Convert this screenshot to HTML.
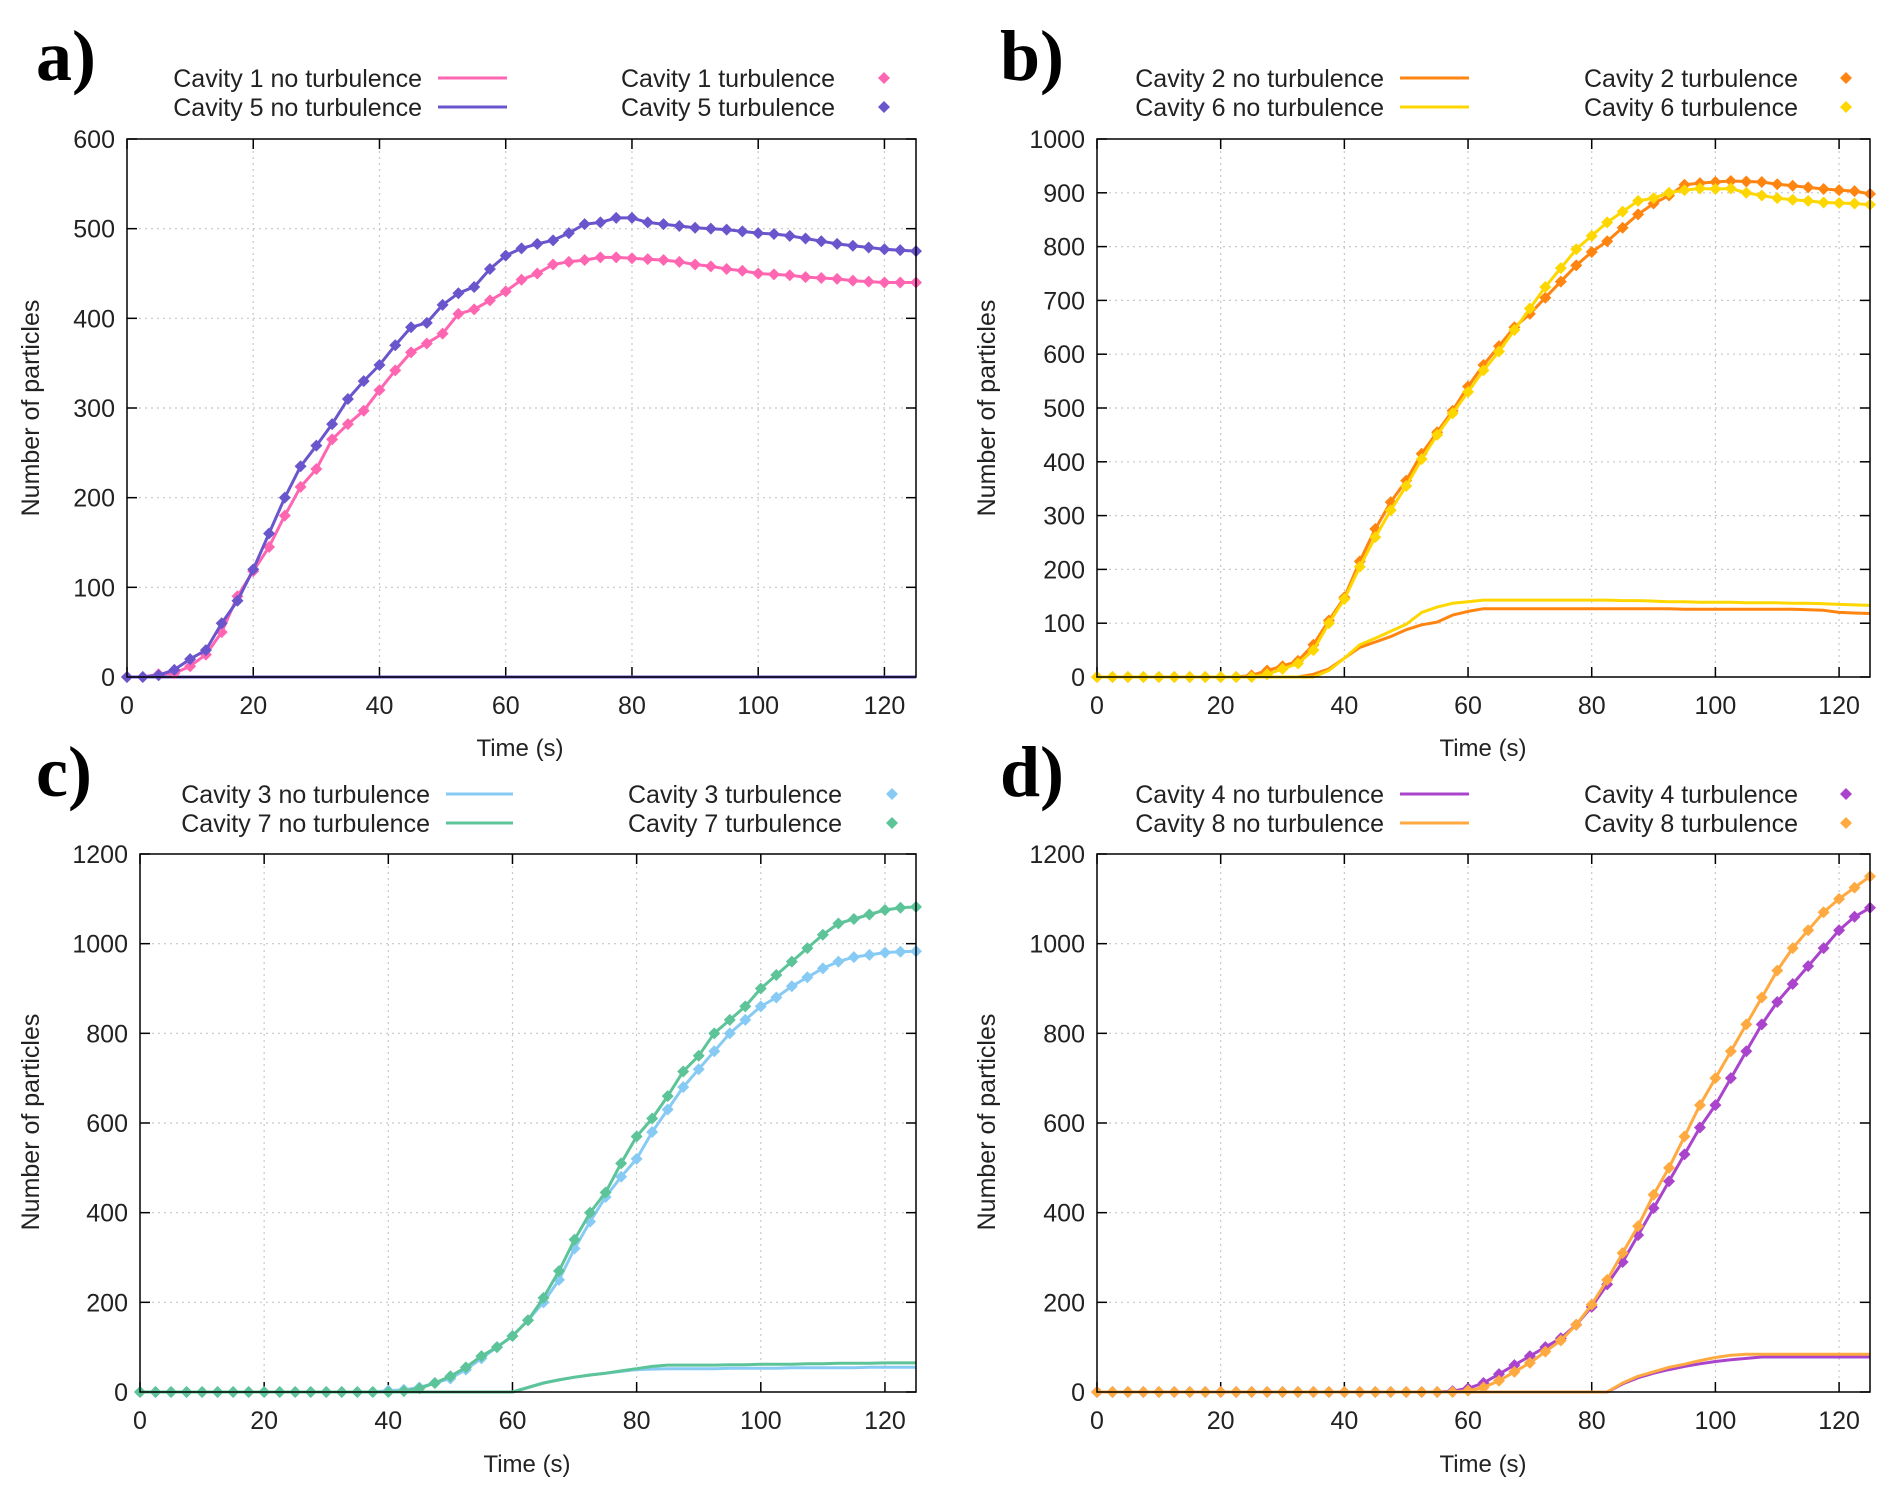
<!DOCTYPE html>
<html><head><meta charset="utf-8"><style>
html,body{margin:0;padding:0;background:#fff;}
svg{display:block;font-family:"Liberation Sans",sans-serif;}
</style></head><body>
<svg id="fig" width="1892" height="1499" viewBox="0 0 1892 1499"></svg>
<script>
const T=[0,2.5,5,7.5,10,12.5,15,17.5,20,22.5,25,27.5,30,32.5,35,37.5,40,42.5,45,47.5,50,52.5,55,57.5,60,62.5,65,67.5,70,72.5,75,77.5,80,82.5,85,87.5,90,92.5,95,97.5,100,102.5,105,107.5,110,112.5,115,117.5,120,122.5,125];
const xTicks=[0,20,40,60,80,100,120];
const yTicksA=[0,100,200,300,400,500,600];
const yTicksB=[0,100,200,300,400,500,600,700,800,900,1000];
const yTicksCD=[0,200,400,600,800,1000,1200];
const zeros=[0,0,0,0,0,0,0,0,0,0,0,0,0,0,0,0,0,0,0,0,0,0,0,0,0,0,0,0,0,0,0,0,0,0,0,0,0,0,0,0,0,0,0,0,0,0,0,0,0,0,0];
const a1t=[0,0,3,4,12,25,50,90,118,145,180,212,232,265,282,297,320,342,362,372,383,405,410,420,430,443,450,460,463,465,468,468,467,466,465,463,460,458,455,453,450,449,448,446,445,444,442,441,440,440,440];
const a5t=[0,0,2,8,20,30,60,85,120,160,200,235,258,282,310,330,348,370,390,395,415,428,435,455,470,478,483,487,495,505,507,512,512,507,505,503,501,500,499,497,495,494,492,489,486,483,481,479,477,476,475];
const a1n=zeros, a5n=zeros;
const b2t=[0,0,0,0,0,0,0,0,0,0,3,12,20,30,60,105,148,215,275,325,365,415,455,495,540,580,615,650,675,705,735,765,790,810,835,860,880,895,915,918,920,922,921,920,916,913,910,907,905,903,898];
const b6t=[0,0,0,0,0,0,0,0,0,0,0,5,15,25,50,100,145,205,260,310,355,405,450,490,530,570,605,645,685,725,760,795,820,845,865,885,890,900,905,908,907,908,900,895,890,887,885,882,881,880,878];
const b2n=[0,0,0,0,0,0,0,0,0,0,0,0,0,0,5,15,35,55,65,75,88,97,102,115,122,127,127,127,127,127,127,127,127,127,127,127,127,127,126,126,126,126,126,126,126,126,125,124,120,119,118];
const b6n=[0,0,0,0,0,0,0,0,0,0,0,0,0,0,0,12,35,60,72,85,98,120,130,137,140,143,143,143,143,143,143,143,143,143,142,142,141,140,140,139,139,139,138,138,138,137,137,136,135,134,133];
const c3t=[0,0,0,0,0,0,0,0,0,0,0,0,0,0,0,0,3,5,10,20,30,50,75,100,125,160,200,250,320,380,435,480,520,580,630,680,720,760,800,830,860,880,905,925,945,960,970,975,980,982,983];
const c7t=[0,0,0,0,0,0,0,0,0,0,0,0,0,0,0,0,0,2,8,20,35,55,80,100,125,160,210,270,340,400,445,510,570,610,660,715,750,800,830,860,900,930,960,990,1020,1045,1055,1065,1075,1080,1082];
const c3n=[0,0,0,0,0,0,0,0,0,0,0,0,0,0,0,0,0,0,0,0,0,0,0,0,0,10,20,27,33,38,42,46,50,51,52,52,52,52,53,53,53,53,54,54,54,54,54,55,55,55,55];
const c7n=[0,0,0,0,0,0,0,0,0,0,0,0,0,0,0,0,0,0,0,0,0,0,0,0,0,10,20,27,33,38,42,47,52,57,60,60,60,60,61,61,62,62,62,63,63,64,64,64,65,65,65];
const d4t=[0,0,0,0,0,0,0,0,0,0,0,0,0,0,0,0,0,0,0,0,0,0,0,2,8,20,40,60,80,100,120,150,190,240,290,350,410,470,530,590,640,700,760,820,870,910,950,990,1030,1060,1080];
const d8t=[0,0,0,0,0,0,0,0,0,0,0,0,0,0,0,0,0,0,0,0,0,0,0,0,3,10,25,45,65,90,115,150,195,250,310,370,440,500,570,640,700,760,820,880,940,990,1030,1070,1100,1125,1150];
const d4n=[0,0,0,0,0,0,0,0,0,0,0,0,0,0,0,0,0,0,0,0,0,0,0,0,0,0,0,0,0,0,0,0,0,0,18,32,42,50,57,63,68,72,75,78,78,78,78,78,78,78,78];
const d8n=[0,0,0,0,0,0,0,0,0,0,0,0,0,0,0,0,0,0,0,0,0,0,0,0,0,0,0,0,0,0,0,0,0,0,20,35,45,55,62,70,77,82,84,84,84,84,84,84,84,84,84];

const NS='http://www.w3.org/2000/svg';
const svg=document.getElementById('fig');
function mk(tag,attrs,parent){const e=document.createElementNS(NS,tag);for(const k in attrs)e.setAttribute(k,attrs[k]);(parent||svg).appendChild(e);return e;}

const panels=[
 {id:'a',L:127,R:916,Top:139,B:677,ymax:600,yt:yTicksA,lab:[36,80],leg:{y1:78,y2:107,tEnd:422,l0:438,l1:507,rEnd:835,mk:884},
  s:[{n:'Cavity 1',c:'#ff66b2',t:a1t,nt:a1n},{n:'Cavity 5',c:'#6a55cc',t:a5t,nt:a5n}],xt:[520,756],yl:[30,408]},
 {id:'b',L:1097,R:1870,Top:139,B:677,ymax:1000,yt:yTicksB,lab:[1000,80],leg:{y1:78,y2:107,tEnd:1384,l0:1400,l1:1469,rEnd:1798,mk:1846},
  s:[{n:'Cavity 2',c:'#ff8410',t:b2t,nt:b2n},{n:'Cavity 6',c:'#ffd700',t:b6t,nt:b6n}],xt:[1483,756],yl:[986,408]},
 {id:'c',L:140,R:916,Top:854,B:1392,ymax:1200,yt:yTicksCD,lab:[36,796],leg:{y1:794,y2:823,tEnd:430,l0:446,l1:513,rEnd:842,mk:892},
  s:[{n:'Cavity 3',c:'#87cbf5',t:c3t,nt:c3n},{n:'Cavity 7',c:'#5cc498',t:c7t,nt:c7n}],xt:[527,1472],yl:[30,1122]},
 {id:'d',L:1097,R:1870,Top:854,B:1392,ymax:1200,yt:yTicksCD,lab:[1000,796],leg:{y1:794,y2:823,tEnd:1384,l0:1400,l1:1469,rEnd:1798,mk:1846},
  s:[{n:'Cavity 4',c:'#aa44cc',t:d4t,nt:d4n},{n:'Cavity 8',c:'#ffaa40',t:d8t,nt:d8n}],xt:[1483,1472],yl:[986,1122]}
];

function diamond(g,x,y,c,r){const p=mk('path',{d:`M${x},${y-r}L${x+r},${y}L${x},${y+r}L${x-r},${y}Z`,fill:c},g);return p;}

panels.forEach(P=>{
 const g=mk('g',{});
 
 
 const sx=v=>P.L+(P.R-P.L)*v/125;
 const sy=v=>P.B-(P.B-P.Top)*v/P.ymax;
 P.yt.forEach(v=>{if(v>0&&v<P.ymax){const l=mk('line',{x1:P.L,x2:P.R,y1:sy(v),y2:sy(v),stroke:'#c8c8c8','stroke-width':1.2,'stroke-dasharray':'2,4'},g);}});
 xTicks.forEach(v=>{if(v>0){const l=mk('line',{x1:sx(v),x2:sx(v),y1:P.Top,y2:P.B,stroke:'#c8c8c8','stroke-width':1.2,'stroke-dasharray':'2,4'},g);}});
 P.yt.forEach(v=>{
  mk('line',{x1:P.L,x2:P.L+10,y1:sy(v),y2:sy(v),stroke:'#000','stroke-width':1.5},g);
  mk('line',{x1:P.R,x2:P.R-10,y1:sy(v),y2:sy(v),stroke:'#000','stroke-width':1.5},g);
  const t=mk('text',{x:P.L-12,y:sy(v)+9,'text-anchor':'end','font-size':25,fill:'#222'},g);t.textContent=v;
  
 });
 xTicks.forEach(v=>{
  mk('line',{x1:sx(v),x2:sx(v),y1:P.B,y2:P.B-10,stroke:'#000','stroke-width':1.5},g);
  mk('line',{x1:sx(v),x2:sx(v),y1:P.Top,y2:P.Top+10,stroke:'#000','stroke-width':1.5},g);
  const t=mk('text',{x:sx(v),y:P.B+37,'text-anchor':'middle','font-size':25,fill:'#222'},g);t.textContent=v;
  
 });
 P.s.forEach(S=>{
  const pts=T.map((t,i)=>sx(t).toFixed(1)+','+sy(S.nt[i]).toFixed(1)).join(' ');
  const ln=mk('polyline',{points:pts,fill:'none',stroke:S.c,'stroke-width':3,'stroke-linejoin':'round'},g);
  
  
 });
 P.s.forEach(S=>{
  const pts=T.map((t,i)=>sx(t).toFixed(1)+','+sy(S.t[i]).toFixed(1)).join(' ');
  const ln=mk('polyline',{points:pts,fill:'none',stroke:S.c,'stroke-width':3,'stroke-linejoin':'round'},g);
  
  
  T.forEach((t,i)=>{const d=diamond(g,sx(t),sy(S.t[i]),S.c,6);
   
   });
 });
 const fr=mk('rect',{x:P.L,y:P.Top,width:P.R-P.L,height:P.B-P.Top,fill:'none',stroke:'#000','stroke-width':1.5},g);
 
 const xt=mk('text',{x:P.xt[0],y:P.xt[1],'text-anchor':'middle','font-size':24,fill:'#222'},g);xt.textContent='Time (s)';
 
 const yl=mk('text',{x:0,y:0,'text-anchor':'middle','font-size':25,fill:'#222',transform:`translate(${P.yl[0]+9},${P.yl[1]}) rotate(-90)`},g);yl.textContent='Number of particles';
 
 const pl=mk('text',{x:P.lab[0],y:P.lab[1],'font-size':72,'font-weight':'bold','font-family':'"Liberation Serif",serif',fill:'#000'},g);pl.textContent=P.id+')';
 
 const Lg=P.leg;
 P.s.forEach((S,k)=>{
  const y=k?Lg.y2:Lg.y1;
  const t1=mk('text',{x:Lg.tEnd,y:y+9,'text-anchor':'end','font-size':25,fill:'#222'},g);t1.textContent=S.n+' no turbulence';
  
  mk('line',{x1:Lg.l0,x2:Lg.l1,y1:y,y2:y,stroke:S.c,'stroke-width':3},g);
  const t2=mk('text',{x:Lg.rEnd,y:y+9,'text-anchor':'end','font-size':25,fill:'#222'},g);t2.textContent=S.n+' turbulence';
  
  diamond(g,Lg.mk,y,S.c,6);
 });
});
</script>
</body></html>
